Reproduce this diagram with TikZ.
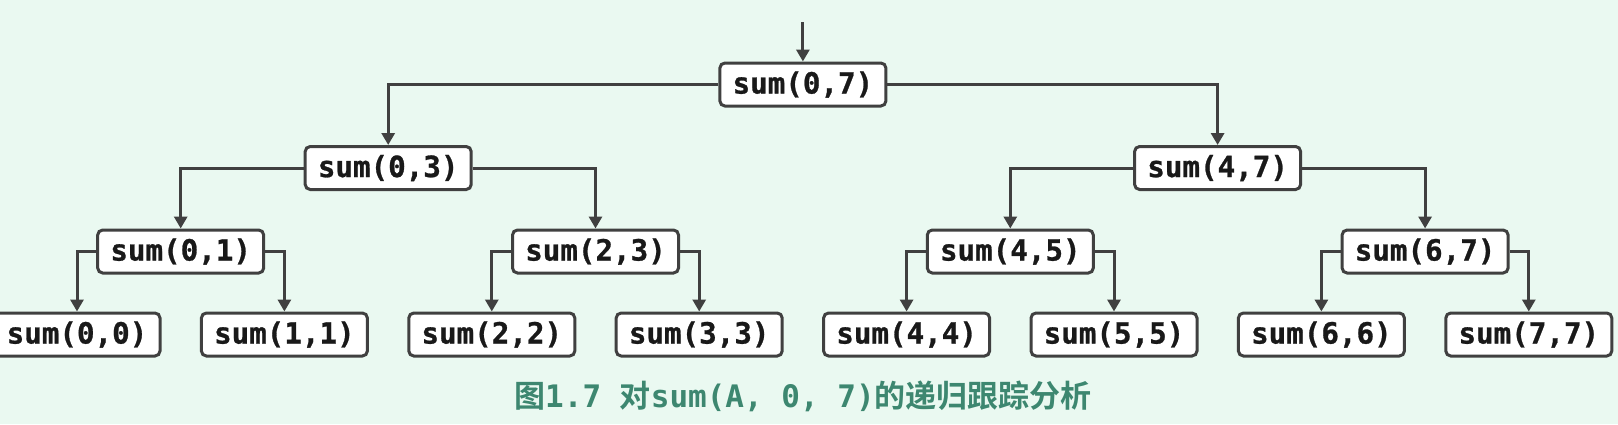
\documentclass[tikz,border=0pt]{standalone}
\usepackage{fontspec}
\newfontfamily\nodemono{DejaVu Sans Mono}[FakeBold=0.9]
\newfontfamily\capmono{DejaVu Sans Mono}[BoldFont={DejaVu Sans Mono Bold}]
\newfontfamily\cjk{Noto Sans CJK SC}[BoldFont={Noto Sans CJK SC Bold}]
\usetikzlibrary{arrows.meta}
\definecolor{bgmint}{HTML}{EAF9F1}
\definecolor{linegray}{HTML}{404040}
\definecolor{capteal}{HTML}{3D8770}
\tikzset{
  callbox/.style={draw=linegray, line width=1.5pt, fill=white, rounded corners=2.5pt,
    minimum width=83pt, minimum height=21.5pt, inner sep=0pt,
    font=\nodemono\bfseries\fontsize{14.6}{16}\selectfont, text=black!90},
  link/.style={draw=linegray, line width=1.5pt, -{Triangle[length=6pt,width=6.5pt]}}
}
\begin{document}
\begin{tikzpicture}[x=0.5pt,y=-0.5pt]
\fill[bgmint] (0,0) rectangle (1618,424);
\useasboundingbox (0,0) rectangle (1618,424);
% level 0
\node[callbox] (n07) at (802.9,84.5) {sum(0,7)};
% level 1
\node[callbox] (n03) at (388.2,168) {sum(0,3)};
\node[callbox] (n47) at (1217.6,168) {sum(4,7)};
% level 2
\node[callbox] (n01) at (180.7,251.5) {sum(0,1)};
\node[callbox] (n23) at (595.5,251.5) {sum(2,3)};
\node[callbox] (n45) at (1010.3,251.5) {sum(4,5)};
\node[callbox] (n67) at (1425.1,251.5) {sum(6,7)};
% level 3
\node[callbox] (n00) at (77,334.5) {sum(0,0)};
\node[callbox] (n11) at (284.4,334.5) {sum(1,1)};
\node[callbox] (n22) at (491.8,334.5) {sum(2,2)};
\node[callbox] (n33) at (699.2,334.5) {sum(3,3)};
\node[callbox] (n44) at (906.6,334.5) {sum(4,4)};
\node[callbox] (n55) at (1114,334.5) {sum(5,5)};
\node[callbox] (n66) at (1321.4,334.5) {sum(6,6)};
\node[callbox] (n77) at (1528.8,334.5) {sum(7,7)};
% entry arrow
\coordinate (entry) at (802.9,22);
\draw[link] (entry) -- (n07.north);
% connectors
\draw[link] (n07.west) -| (n03.north);
\draw[link] (n07.east) -| (n47.north);
\draw[link] (n03.west) -| (n01.north);
\draw[link] (n03.east) -| (n23.north);
\draw[link] (n47.west) -| (n45.north);
\draw[link] (n47.east) -| (n67.north);
\draw[link] (n01.west) -| (n00.north);
\draw[link] (n01.east) -| (n11.north);
\draw[link] (n23.west) -| (n22.north);
\draw[link] (n23.east) -| (n33.north);
\draw[link] (n45.west) -| (n44.north);
\draw[link] (n45.east) -| (n55.north);
\draw[link] (n67.west) -| (n66.north);
\draw[link] (n67.east) -| (n77.north);
% caption
\node[text=capteal, inner sep=0pt, font=\fontsize{15.5}{18}\selectfont\bfseries] (cap) at (803,396)
  {{\cjk 图}{\capmono 1.7 }{\cjk 对}{\capmono sum(A, 0, 7)}{\cjk 的递归跟踪分析}};
\end{tikzpicture}
\end{document}
